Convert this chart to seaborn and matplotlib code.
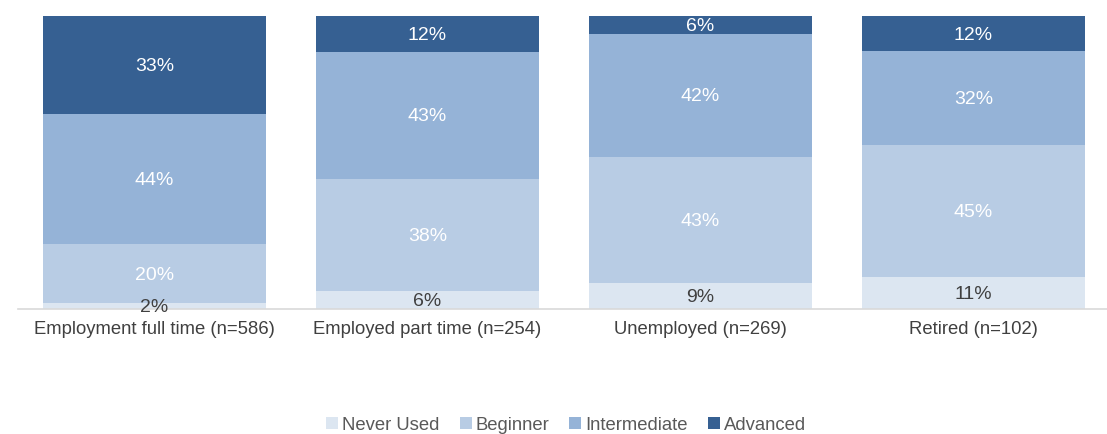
import matplotlib
matplotlib.use("Agg")
import matplotlib.pyplot as plt
from matplotlib.patches import Patch
import numpy as np
import pandas as pd
import seaborn as sns

categories = ["Employment full time (n=586)", "Employed part time (n=254)",
              "Unemployed (n=269)", "Retired (n=102)"]
levels = ["Never Used", "Beginner", "Intermediate", "Advanced"]
never_used = [2, 6, 9, 11]
beginner = [20, 38, 43, 45]
intermediate = [44, 43, 42, 32]
advanced = [33, 12, 6, 12]
colors = ["#DCE6F1", "#B8CCE4", "#95B3D7", "#366092"]
label_colors = ["#404040", "white", "white", "white"]

sns.set_theme(style="white")
plt.rcParams["font.family"] = ["Liberation Sans", "DejaVu Sans"]

values = np.array([never_used, beginner, intermediate, advanced], dtype=float)
shares = values / values.sum(axis=0) * 100  # 100% stacked
cum = np.cumsum(shares, axis=0)

fig = plt.figure(figsize=(11.07, 4.34), dpi=100)
ax = fig.add_axes([18 / 1107, 125 / 434, 1092 / 1107, 293 / 434])

# draw cumulative totals from the top layer down so each band shows
for i in reversed(range(len(levels))):
    df = pd.DataFrame({"cat": categories, "val": cum[i]})
    sns.barplot(data=df, x="cat", y="val", color=colors[i], width=0.82,
                saturation=1, linewidth=0, ax=ax, order=categories)

for i in range(len(levels)):
    for j in range(len(categories)):
        y = cum[i, j] - shares[i, j] / 2
        ax.annotate(f"{int(values[i, j])}%", (j, y), xytext=(0, -1.2),
                    textcoords="offset points", ha="center", va="center",
                    fontsize=14, color=label_colors[i])

ax.set_xlim(-0.5, 3.5)
ax.set_ylim(0, 100)
ax.set_xlabel("")
ax.set_ylabel("")
ax.set_yticks([])
for s in ["top", "right", "left"]:
    ax.spines[s].set_visible(False)
ax.spines["bottom"].set_color("#D9D9D9")
ax.spines["bottom"].set_linewidth(1.2)
ax.tick_params(axis="x", length=0, pad=9, labelsize=13.3, labelcolor="#404040")

handles = [Patch(facecolor=c, edgecolor="none") for c in colors]
fig.legend(handles, levels, loc="center", bbox_to_anchor=(566 / 1107, 1 - 425 / 434),
           ncol=4, frameon=False, fontsize=13.3, handlelength=0.65, handleheight=0.65,
           handletextpad=0.2, columnspacing=1.1, labelcolor="#595959")

fig.savefig("out.png", dpi=100)
